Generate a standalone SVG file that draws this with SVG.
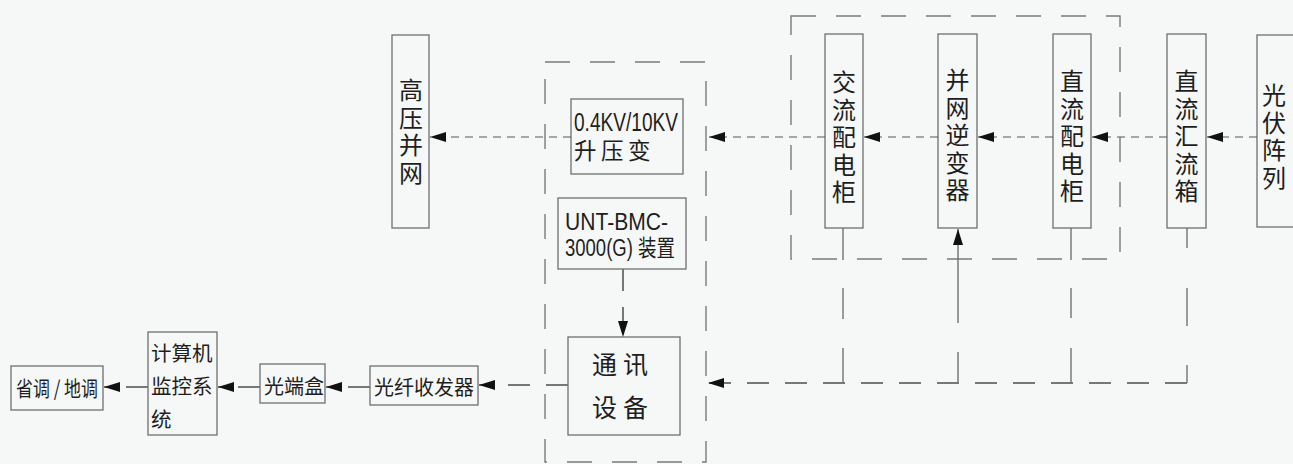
<svg xmlns="http://www.w3.org/2000/svg" width="1293" height="464" viewBox="0 0 1293 464">
<defs>
<style>
.bg{fill:#f6f8f7}
.box{fill:none;stroke:#6e6e6e;stroke-width:1.3}
.grp{fill:none;stroke:#7a7a7a;stroke-width:1.4;stroke-dasharray:25 20}
.t{font-family:"Liberation Sans","Noto Sans CJK SC",sans-serif;fill:#1e1e1e}
.cjk{font-family:"Noto Sans CJK SC","Liberation Sans",sans-serif;fill:#1e1e1e}
.v{font-family:"Noto Sans CJK SC",sans-serif;fill:#1e1e1e;font-size:24px;text-anchor:middle;writing-mode:vertical-rl;letter-spacing:3.5px}
.dl{fill:none;stroke:#555;stroke-width:1.2;stroke-dasharray:8 6}
.dt{fill:none;stroke:#777;stroke-width:2;stroke-dasharray:22 16}
.sl{fill:none;stroke:#666;stroke-width:1.3}
</style>
<marker id="ah" viewBox="0 0 16 10" refX="16" refY="5" markerWidth="16" markerHeight="10" markerUnits="userSpaceOnUse" orient="auto">
<path d="M0,0 L16,5 L0,10 z" fill="#111"/>
</marker>
</defs>
<rect class="bg" x="0" y="0" width="1293" height="464"/>

<!-- group frames -->
<rect class="grp" x="545" y="62" width="161" height="400"/>
<rect class="grp" x="791" y="16" width="329" height="243"/>

<g id="gaoya">
<rect class="box" x="392" y="35" width="37" height="193"/>
<text class="v" x="411" y="133">高压并网</text>
</g>

<g id="shengya">
<rect class="box" x="571" y="99" width="112" height="75"/>
<text class="t" x="574" y="131" font-size="26" textLength="104" lengthAdjust="spacingAndGlyphs">0.4KV/10KV</text>
<text class="t" x="574" y="159" font-size="22.5" letter-spacing="4.5">升压变</text>
</g>

<g id="unt">
<rect class="box" x="558" y="198" width="128" height="71"/>
<text class="t" x="565" y="230" font-size="23" textLength="103" lengthAdjust="spacingAndGlyphs">UNT-BMC-</text>
<text class="t" x="565" y="256" font-size="23" textLength="110" lengthAdjust="spacingAndGlyphs">3000(G) 装置</text>
</g>

<g id="tongxun">
<rect class="box" x="568" y="337" width="112" height="98"/>
<text class="cjk" x="592" y="374" font-size="25" letter-spacing="6">通讯</text>
<text class="cjk" x="592" y="417" font-size="25" letter-spacing="6">设备</text>
</g>

<g id="jiaoliu">
<rect class="box" x="825" y="34" width="38" height="194"/>
<text class="v" x="844" y="139">交流配电柜</text>
</g>

<g id="nibian">
<rect class="box" x="938" y="34" width="39" height="194"/>
<text class="v" x="957.5" y="137">并网逆变器</text>
</g>

<g id="zhiliupei">
<rect class="box" x="1053" y="34" width="38" height="194"/>
<text class="v" x="1072" y="138">直流配电柜</text>
</g>

<g id="huiliu">
<rect class="box" x="1167" y="34" width="39" height="194"/>
<text class="v" x="1186.5" y="138">直流汇流箱</text>
</g>

<g id="guangfu">
<rect class="box" x="1257" y="35" width="50" height="192"/>
<text class="v" x="1274" y="138" letter-spacing="2.5">光伏阵列</text>
</g>

<g id="shengdiao">
<rect class="box" x="11" y="366" width="92" height="44"/>
<text class="cjk" x="16" y="396" font-size="21" textLength="82" lengthAdjust="spacingAndGlyphs">省调 / 地调</text>
</g>

<g id="jisuanji">
<rect class="box" x="148" y="332" width="69" height="103"/>
<text class="cjk" x="151" y="361" font-size="20.5">计算机</text>
<text class="cjk" x="151" y="394" font-size="20.5">监控系</text>
<text class="cjk" x="151" y="427" font-size="20.5">统</text>
</g>

<g id="guangduan">
<rect class="box" x="260" y="364" width="65" height="39"/>
<text class="cjk" x="264" y="394" font-size="20">光端盒</text>
</g>

<g id="shoufa">
<rect class="box" x="370" y="366" width="108" height="39"/>
<text class="cjk" x="374" y="395" font-size="20">光纤收发器</text>
</g>

<g id="connectors">
<line class="dl" x1="1257" y1="137" x2="1207" y2="137" marker-end="url(#ah)"/>
<line class="dl" x1="1167" y1="137" x2="1092" y2="137" marker-end="url(#ah)"/>
<line class="dl" x1="1053" y1="137" x2="978" y2="137" marker-end="url(#ah)"/>
<line class="dl" x1="938" y1="137" x2="864" y2="137" marker-end="url(#ah)"/>
<line class="dl" x1="825" y1="137" x2="709" y2="137" marker-end="url(#ah)"/>
<line class="dl" x1="571" y1="137" x2="430" y2="137" marker-end="url(#ah)"/>

<line class="dt" x1="623" y1="269" x2="623" y2="337" stroke-dasharray="16 22" marker-end="url(#ah)"/>

<line class="sl" x1="843" y1="228" x2="843" y2="260"/>
<line class="sl" x1="1071" y1="228" x2="1071" y2="260"/>
<line class="sl" x1="1187" y1="228" x2="1187" y2="248"/>
<line class="sl" x1="843" y1="288" x2="843" y2="319"/>
<line class="sl" x1="843" y1="348" x2="843" y2="383"/>
<line class="sl" x1="1071" y1="288" x2="1071" y2="318"/>
<line class="sl" x1="1071" y1="348" x2="1071" y2="383"/>
<line class="sl" x1="1187" y1="288" x2="1187" y2="326"/>
<line class="sl" x1="1187" y1="365" x2="1187" y2="383"/>
<line class="sl" x1="958" y1="352" x2="958" y2="383"/>
<line class="sl" x1="958" y1="323" x2="958" y2="229" marker-end="url(#ah)"/>
<line class="dt" x1="1187" y1="383" x2="708" y2="383" stroke-dasharray="30 18" marker-end="url(#ah)"/>

<line class="dt" x1="568" y1="385" x2="479" y2="385" stroke-dasharray="16 12" marker-end="url(#ah)"/>
<line class="dt" x1="370" y1="387" x2="326" y2="387" stroke-dasharray="16 12" marker-end="url(#ah)"/>
<line class="dt" x1="260" y1="387" x2="218" y2="387" stroke-dasharray="14 12" marker-end="url(#ah)"/>
<line class="dt" x1="148" y1="387" x2="104" y2="387" stroke-dasharray="14 12" marker-end="url(#ah)"/>
</g>
</svg>
